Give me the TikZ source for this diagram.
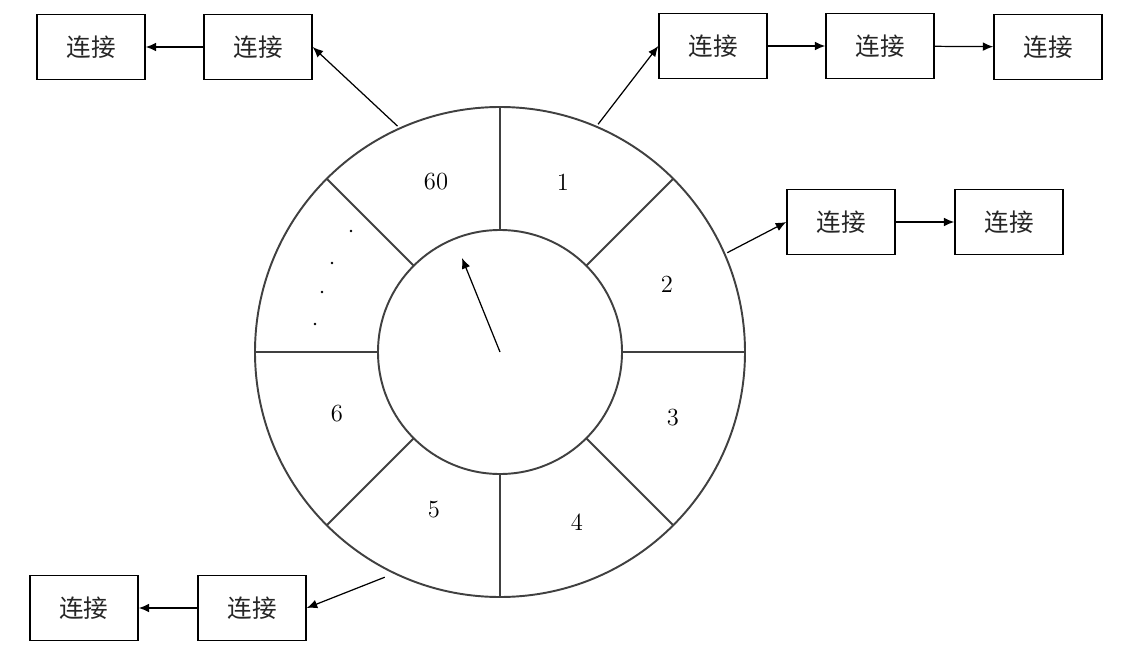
\documentclass[tikz,border=0pt]{standalone}
\usepackage{fontspec}
\newfontfamily\cjk{Noto Sans CJK SC}
\usetikzlibrary{arrows.meta,calc}
\begin{document}
\begin{tikzpicture}[x=0.02cm, y=0.02cm,
    box/.style={draw, line width=0.8pt, minimum width=2.16cm, minimum height=1.3cm,
      inner sep=0pt, font=\cjk\fontsize{14}{16}\selectfont, text=black!85},
    link/.style={-{Latex[length=6pt, width=5pt]}, line width=0.7pt},
    ring/.style={draw=black!75, line width=1.1pt},
    num/.style={font=\fontsize{14}{16}\selectfont}]
     \useasboundingbox (0,0) rectangle (1130,647);
     \coordinate (O) at (500,295);
     % the wheel
     \draw[ring] (O) circle (245);
     \draw[ring] (O) circle (122);
     \foreach \a in {0,45,...,315}
       \draw[ring] ($(O)+(\a:122)$) -- ($(O)+(\a:245)$);
     \node[num] (n60) at (436,465) {60};
     \node[num] (n1) at (563,465) {1};
     \node[num] (n2) at (667,363) {2};
     \node[num] (n3) at (673,229) {3};
     \node[num] (n4) at (577,125) {4};
     \node[num] (n5) at (434,137) {5};
     \node[num] (n6) at (337,233) {6};
     \foreach \p in {(351,416),(332,384),(322,355),(315,323)}
       \fill \p circle (1.4);
     \coordinate (T) at (462,389);
     \draw[link] (O) -- (T);
     % slot 60
     \coordinate (S60) at ($(O)+(114.4:248)$);
     \node[box] (L2) at (258,600) {连接};
     \node[box] (L1) at (91,600) {连接};
     \draw[link] (S60) -- (L2.east);
     \draw[link] (L2) -- (L1);
     % slot 1
     \coordinate (S1) at ($(O)+(66.7:248)$);
     \node[box] (R1) at (713,601) {连接};
     \node[box] (R2) at (880,601) {连接};
     \node[box] (R3) at (1048,600) {连接};
     \draw[link] (S1) -- (R1.west);
     \draw[link] (R1) -- (R2);
     \draw[link] (R2) -- (R3);
     % slot 2
     \coordinate (S2) at ($(O)+(23.6:248)$);
     \node[box] (M1) at (841,425) {连接};
     \node[box] (M2) at (1009,425) {连接};
     \draw[link] (S2) -- (M1.west);
     \draw[link] (M1) -- (M2);
     % slot 5
     \coordinate (S5) at ($(O)+(242.9:253)$);
     \node[box] (B2) at (252,39) {连接};
     \node[box] (B1) at (84,39) {连接};
     \draw[link] (S5) -- (B2.east);
     \draw[link] (B2) -- (B1);
\end{tikzpicture}
\end{document}
